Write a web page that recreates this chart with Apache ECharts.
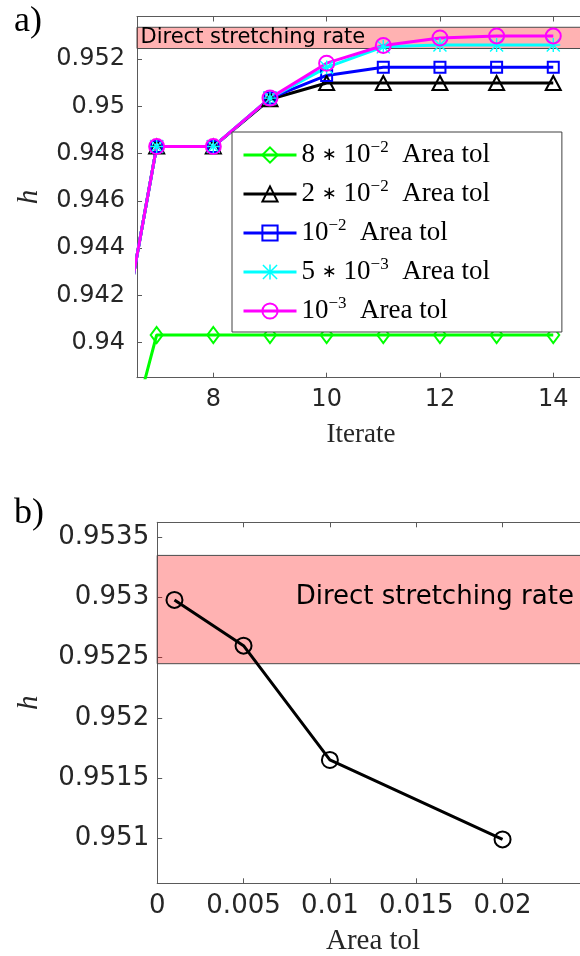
<!DOCTYPE html>
<html>
<head>
<meta charset="utf-8">
<script src="https://cdn.jsdelivr.net/npm/echarts@6/dist/echarts.min.js"></script>
<style>
  html, body { margin: 0; padding: 0; background: #ffffff; overflow: hidden; }
  /* the plots run on past the right edge of the window */
  #chart { width: 600px; height: 956px; }
</style>
</head>
<body>
<div id="chart"></div>
<script>
// Panel a: h against iterate for each area tolerance
const iterations = [6, 7, 8, 9, 10, 11, 12, 13, 14];
const hTol8e2 = [0.9312, 0.94032, 0.94032, 0.94032, 0.94032, 0.94032, 0.94032, 0.94032, 0.94032];
const hTol2e2 = [0.9350, 0.9483, 0.9483, 0.9503, 0.95099, 0.95099, 0.95099, 0.95099, 0.95099];
const hTol1e2 = [0.9350, 0.9483, 0.9483, 0.95035, 0.95131, 0.95166, 0.95166, 0.95166, 0.95166];
const hTol5e3 = [0.9350, 0.9483, 0.9483, 0.95035, 0.95165, 0.95252, 0.9526, 0.9526, 0.9526];
const hTol1e3 = [0.9350, 0.9483, 0.9483, 0.95035, 0.95183, 0.95258, 0.9529, 0.95298, 0.95298];

// legend text pieces: mantissa factor, power of ten
const tolFactor = ['8', '2', '', '5', ''];
const tolExponent = ['\u22122', '\u22122', '\u22122', '\u22123', '\u22123'];

// Panel b: converged h against area tolerance
const areaTol = [0.001, 0.005, 0.01, 0.02];
const hConverged = [0.95298, 0.9526, 0.95165, 0.95099];

// range of h from the direct stretching rate
const directRate = [0.95245, 0.95335];

// tick values
const ticksAx = [8, 10, 12, 14];
const ticksAy = [0.94, 0.942, 0.944, 0.946, 0.948, 0.95, 0.952];
const ticksBx = [0, 0.005, 0.01, 0.015, 0.02];
const ticksBy = [0.951, 0.9515, 0.952, 0.9525, 0.953, 0.9535];

const seriesValues = [hTol8e2, hTol2e2, hTol1e2, hTol5e3, hTol1e3];
const seriesColors = ['#00ff00', '#000000', '#0000ff', '#00ffff', '#ff00ff'];
const starPath = 'path://M9,0L11,0L11,20L9,20Z M0,9L20,9L20,11L0,11Z M1.4,0L20,18.6L18.6,20L0,1.4Z M18.6,0L20,1.4L1.4,20L0,18.6Z';
const seriesSymbols = ['diamond', 'triangle', 'rect', starPath, 'circle'];
const seriesSymbolSizes = [[12, 16], [15, 14], [11, 11], [14, 14], [15, 15]];

const fmt = v => String(parseFloat(Number(v).toFixed(6)));
const axisColor = '#5a5a5a';
const labelColor = '#262626';
const sans = 'DejaVu Sans';
const serif = 'Liberation Serif';

const seriesNames = tolFactor.map((m, i) => 'tol' + i);

const chart = echarts.init(document.getElementById('chart'), null, { renderer: 'canvas', width: 600, height: 956 });

function pairs(xs, ys) { return xs.map((x, i) => [x, ys[i]]); }

const lineSeries = seriesValues.map((vals, i) => ({
  type: 'line',
  name: seriesNames[i],
  xAxisIndex: 0, yAxisIndex: 0,
  data: pairs(iterations, vals),
  clip: true,
  symbol: seriesSymbols[i],
  symbolSize: seriesSymbolSizes[i],
  showAllSymbol: true,
  lineStyle: { color: seriesColors[i], width: 3 },
  itemStyle: i === 3
    ? { color: seriesColors[i], borderColor: seriesColors[i], borderWidth: 0 }
    : { color: 'rgba(0,0,0,0)', borderColor: seriesColors[i], borderWidth: 2 },
  emphasis: { disabled: true },
  z: 2
}));

// translucent band laid over the curves
function bandSeries(xi, yi, label) {
  return {
    type: 'line', xAxisIndex: xi, yAxisIndex: yi, data: [], z: 5,
    silent: true,
    markArea: {
      silent: true,
      itemStyle: { color: 'rgba(255,0,0,0.3)', borderColor: '#4a4a4a', borderWidth: 1, opacity: 1 },
      label: label,
      data: [[{ yAxis: directRate[0] }, { yAxis: directRate[1] }]]
    }
  };
}

// frame line along the top of each plot, with inward ticks
function topAxis(gi, min, max, ticks) {
  return { type: 'value', gridIndex: gi, min: min, max: max, position: 'top',
    axisLine: { show: true, onZero: false, lineStyle: { color: axisColor } },
    axisTick: { show: true, inside: true, length: 5, customValues: ticks, lineStyle: { color: axisColor } },
    axisLabel: { show: false }, splitLine: { show: false } };
}

const option = {
  animation: false,
  backgroundColor: '#ffffff',
  grid: [
    { left: 137, top: 16.5, width: 448, height: 361.2, show: false, outerBoundsMode: 'none', containLabel: false },
    { left: 157.2, top: 522.3, width: 431.7, height: 361, show: false, outerBoundsMode: 'none', containLabel: false }
  ],
  xAxis: [
    { type: 'value', gridIndex: 0, min: 6.653, max: 14.56, position: 'bottom',
      name: 'Iterate', nameLocation: 'middle', nameGap: 44,
      nameTextStyle: { fontFamily: serif, fontSize: 27, color: labelColor },
      axisLine: { show: true, onZero: false, lineStyle: { color: axisColor } },
      axisTick: { show: true, inside: true, length: 5, customValues: ticksAx, lineStyle: { color: axisColor } },
      axisLabel: { customValues: ticksAx, formatter: fmt, fontFamily: sans, fontSize: 24, color: labelColor, margin: 10 },
      splitLine: { show: false } },
    topAxis(0, 6.653, 14.56, ticksAx),
    { type: 'value', gridIndex: 1, min: 0, max: 0.025, position: 'bottom',
      name: 'Area tol', nameLocation: 'middle', nameGap: 44,
      nameTextStyle: { fontFamily: serif, fontSize: 29, color: labelColor },
      axisLine: { show: true, onZero: false, lineStyle: { color: axisColor } },
      axisTick: { show: true, inside: true, length: 5, customValues: ticksBx, lineStyle: { color: axisColor } },
      axisLabel: { customValues: ticksBx, formatter: fmt, fontFamily: sans, fontSize: 26, color: labelColor, margin: 10 },
      splitLine: { show: false } },
    topAxis(1, 0, 0.025, ticksBx)
  ],
  yAxis: [
    { type: 'value', gridIndex: 0, min: 0.938512, max: 0.953806, position: 'left',
      name: 'h', nameLocation: 'middle', nameGap: 93, nameRotate: 90,
      nameTextStyle: { fontFamily: serif, fontStyle: 'italic', fontSize: 29, color: labelColor },
      axisLine: { show: true, onZero: false, lineStyle: { color: axisColor } },
      axisTick: { show: true, inside: true, length: 5, customValues: ticksAy, lineStyle: { color: axisColor } },
      axisLabel: { customValues: ticksAy, formatter: fmt, fontFamily: sans, fontSize: 24, color: labelColor, margin: 12 },
      splitLine: { show: false } },
    { type: 'value', gridIndex: 1, min: 0.950625, max: 0.953625, position: 'left',
      name: 'h', nameLocation: 'middle', nameGap: 113, nameRotate: 90,
      nameTextStyle: { fontFamily: serif, fontStyle: 'italic', fontSize: 29, color: labelColor },
      axisLine: { show: true, onZero: false, lineStyle: { color: axisColor } },
      axisTick: { show: true, inside: true, length: 5, customValues: ticksBy, lineStyle: { color: axisColor } },
      axisLabel: { customValues: ticksBy, formatter: fmt, fontFamily: sans, fontSize: 26, color: labelColor, margin: 8 },
      splitLine: { show: false } }
  ],
  legend: {
    orient: 'vertical',
    left: 232, top: 132,
    padding: [7, 72, 5, 10],
    itemGap: 7,
    itemWidth: 53, itemHeight: 19,
    backgroundColor: '#ffffff',
    borderColor: '#404040', borderWidth: 1, borderRadius: 0,
    data: seriesNames,
    selectedMode: false,
    lineStyle: { width: 3 },
    formatter: name => {
      const i = seriesNames.indexOf(name);
      const lead = tolFactor[i] ? '{t|' + tolFactor[i] + ' }{a|\u2217}{t| 10}' : '{t|10}';
      return lead + '{s|' + tolExponent[i] + '}{t|  Area tol}';
    },
    textStyle: {
      color: '#000000',
      lineHeight: 32,
      rich: {
        t: { fontFamily: serif, fontSize: 27, lineHeight: 32, color: '#000000' },
        a: { fontFamily: sans, fontSize: 18, lineHeight: 32, color: '#000000' },
        s: { fontFamily: serif, fontSize: 17, lineHeight: 17, verticalAlign: 'top', color: '#000000' }
      }
    }
  },
  graphic: [
    { type: 'text', left: 14, top: 4, style: { text: 'a)', font: '36px "Liberation Serif"', fill: '#000000' } },
    { type: 'text', left: 14, top: 496, style: { text: 'b)', font: '36px "Liberation Serif"', fill: '#000000' } }
  ],
  series: [
    ...lineSeries,
    {
      type: 'line', name: 'converged', xAxisIndex: 2, yAxisIndex: 1,
      data: pairs(areaTol, hConverged),
      symbol: 'circle', symbolSize: 16, showAllSymbol: true,
      lineStyle: { color: '#000000', width: 3 },
      itemStyle: { color: 'rgba(0,0,0,0)', borderColor: '#000000', borderWidth: 2 },
      emphasis: { disabled: true }, z: 2
    },
    bandSeries(0, 0, { show: true, position: 'insideLeft', distance: 4, formatter: 'Direct stretching rate',
      fontFamily: sans, fontSize: 21, color: '#000000' }),
    bandSeries(2, 1, { show: true, position: [139, 42], align: 'left', verticalAlign: 'middle',
      formatter: 'Direct stretching rate', fontFamily: sans, fontSize: 26, color: '#000000' })
  ]
};

chart.setOption(option);
</script>
</body>
</html>
